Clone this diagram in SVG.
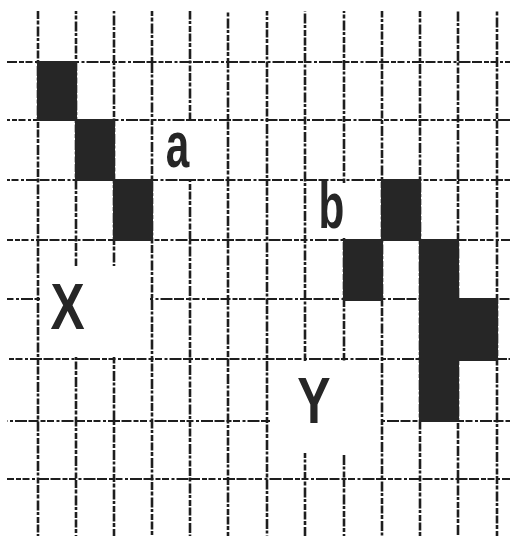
<svg xmlns="http://www.w3.org/2000/svg" width="515" height="536" viewBox="0 0 515 536">
<style>
.bg{fill:#ffffff}
.v{stroke:#1e1e1e;stroke-width:2.6;fill:none;stroke-dasharray:8 1.5 4 2 10 1.5 3 2 6 1.5}
.h{stroke:#1e1e1e;stroke-width:2.2;fill:none;stroke-dasharray:10 2 5 1.5 7 2.5 3 2 12 1.5}
.cell{fill:#262626}
.mask{fill:#ffffff}
.lbl{font-family:"Liberation Sans",Arial,sans-serif;font-weight:bold;font-size:64px;fill:#262626;text-anchor:middle}
</style>
<rect class="bg" x="0" y="0" width="515" height="536"/>
<g id="grid">
<g id="vlines">
<line class="v" x1="38" y1="11" x2="38" y2="536" stroke-dashoffset="0"/>
<line class="v" x1="76" y1="11" x2="76" y2="536" stroke-dashoffset="5"/>
<line class="v" x1="114" y1="11" x2="114" y2="536" stroke-dashoffset="11"/>
<line class="v" x1="152" y1="11" x2="152" y2="536" stroke-dashoffset="3"/>
<line class="v" x1="190" y1="11" x2="190" y2="536" stroke-dashoffset="17"/>
<line class="v" x1="228" y1="11" x2="228" y2="536" stroke-dashoffset="8"/>
<line class="v" x1="267" y1="11" x2="267" y2="536" stroke-dashoffset="21"/>
<line class="v" x1="305" y1="11" x2="305" y2="536" stroke-dashoffset="13"/>
<line class="v" x1="344" y1="11" x2="344" y2="536" stroke-dashoffset="6"/>
<line class="v" x1="382" y1="11" x2="382" y2="536" stroke-dashoffset="19"/>
<line class="v" x1="420" y1="11" x2="420" y2="536" stroke-dashoffset="2"/>
<line class="v" x1="458" y1="11" x2="458" y2="536" stroke-dashoffset="15"/>
<line class="v" x1="497" y1="11" x2="497" y2="536" stroke-dashoffset="9"/>
</g>
<g id="hlines">
<line class="h" x1="7" y1="62" x2="510" y2="62" stroke-dashoffset="0"/>
<line class="h" x1="7" y1="120" x2="510" y2="120" stroke-dashoffset="7"/>
<line class="h" x1="7" y1="180" x2="510" y2="180" stroke-dashoffset="14"/>
<line class="h" x1="7" y1="240" x2="510" y2="240" stroke-dashoffset="4"/>
<line class="h" x1="7" y1="299" x2="510" y2="299" stroke-dashoffset="19"/>
<line class="h" x1="7" y1="359" x2="510" y2="359" stroke-dashoffset="10"/>
<line class="h" x1="7" y1="421" x2="510" y2="421" stroke-dashoffset="25"/>
<line class="h" x1="7" y1="479" x2="510" y2="479" stroke-dashoffset="3"/>
</g>
</g>
<g id="masks">
<rect class="mask" x="154" y="122" width="72" height="56"/>
<rect class="mask" x="307" y="183" width="73" height="55"/>
<rect class="mask" x="40" y="266" width="110" height="91"/>
<rect class="mask" x="270" y="361" width="110" height="92"/>
</g>
<g id="cells">
<rect class="cell" x="37" y="61" width="40" height="60"/>
<rect class="cell" x="75" y="119" width="40" height="62"/>
<rect class="cell" x="113" y="179" width="40" height="62"/>
<rect class="cell" x="381" y="179" width="40" height="62"/>
<rect class="cell" x="343" y="239" width="40" height="62"/>
<rect class="cell" x="419" y="239" width="40" height="183"/>
<rect class="cell" x="457" y="298" width="41" height="63"/>
</g>
<g id="label-a"><text class="lbl" transform="translate(177.5,167) scale(0.66,1)">a</text></g>
<g id="label-b"><text class="lbl" transform="translate(331.5,228) scale(0.66,1)">b</text></g>
<g id="label-X"><text class="lbl" transform="translate(67.5,329) scale(0.8,1)">X</text></g>
<g id="label-Y"><text class="lbl" transform="translate(314,423) scale(0.78,1)">Y</text></g>
</svg>
